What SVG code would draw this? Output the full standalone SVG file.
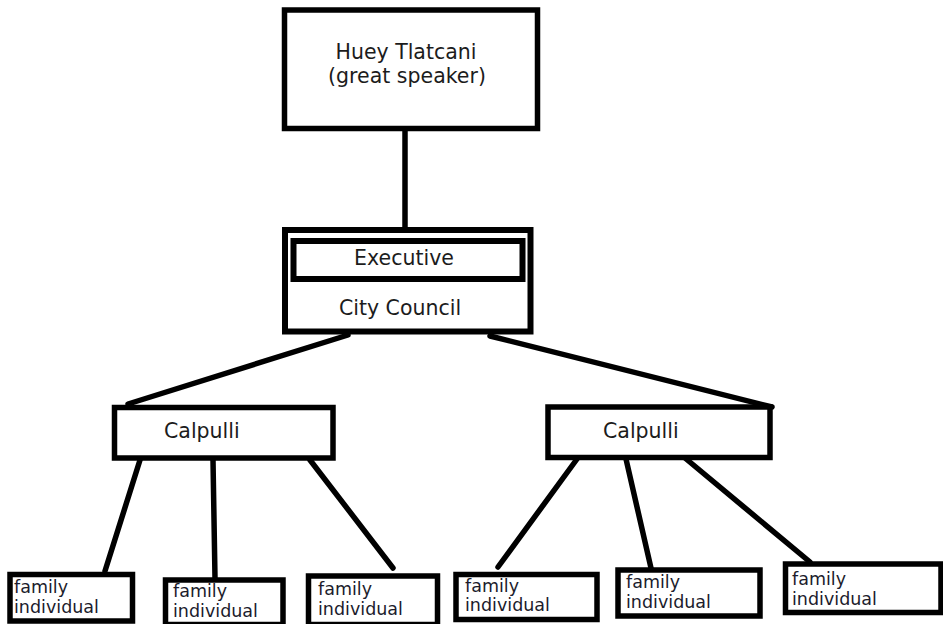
<svg xmlns="http://www.w3.org/2000/svg" width="943" height="624" viewBox="0 0 943 624">
<style>
.box{fill:#fff;stroke:#000;stroke-width:5.5}
.t{font-family:"DejaVu Sans",Verdana,sans-serif;font-size:20.5px;fill:#1c1c1c}
.s{font-family:"DejaVu Sans",Verdana,sans-serif;font-size:17.5px;fill:#1c1c2c}
.c line{stroke:#000;stroke-width:5.5;stroke-linecap:round}
</style>
<rect width="943" height="624" fill="#fff"/>
<g class="c" id="connectors">
<line x1="405" y1="130" x2="405" y2="228"/>
<line x1="348" y1="335" x2="128" y2="404"/>
<line x1="490" y1="336" x2="772" y2="407"/>
<line x1="140" y1="460" x2="105" y2="571"/>
<line x1="213" y1="460" x2="215" y2="578"/>
<line x1="310" y1="460" x2="393" y2="568"/>
<line x1="577" y1="459" x2="498" y2="567"/>
<line x1="626" y1="459" x2="651" y2="568"/>
<line x1="685" y1="458" x2="810" y2="562"/>
</g>
<g id="huey">
<rect class="box" x="284.5" y="10" width="253" height="118.5"/>
<text class="t" x="406" y="59" text-anchor="middle">Huey Tlatcani</text>
<text class="t" x="407" y="83" text-anchor="middle">(great speaker)</text>
</g>
<g id="council">
<rect class="box" x="285" y="230" width="245.5" height="101.5" style="stroke-width:6"/>
<rect class="box" x="293.5" y="241" width="229" height="38" style="stroke-width:6"/>
<text class="t" x="404" y="265" text-anchor="middle">Executive</text>
<text class="t" x="400" y="315" text-anchor="middle">City Council</text>
</g>
<g id="calpulli-left">
<rect class="box" x="114.5" y="407.5" width="218.5" height="50.5"/>
<text class="t" x="164" y="438">Calpulli</text>
</g>
<g id="calpulli-right">
<rect class="box" x="548" y="407" width="222" height="50.5"/>
<text class="t" x="603" y="438">Calpulli</text>
</g>
<g id="family1">
<rect class="box" x="10" y="574.5" width="122.5" height="46.5"/>
<text class="s" x="14" y="593">family</text>
<text class="s" x="14" y="613">individual</text>
</g>
<g id="family2">
<rect class="box" x="165.5" y="580" width="117.5" height="44.5"/>
<text class="s" x="173" y="597">family</text>
<text class="s" x="173" y="617">individual</text>
</g>
<g id="family3">
<rect class="box" x="308.5" y="576" width="129" height="48.5"/>
<text class="s" x="318" y="595">family</text>
<text class="s" x="318" y="615">individual</text>
</g>
<g id="family4">
<rect class="box" x="456" y="574.5" width="141" height="45"/>
<text class="s" x="465" y="592">family</text>
<text class="s" x="465" y="611">individual</text>
</g>
<g id="family5">
<rect class="box" x="618" y="570" width="142" height="46"/>
<text class="s" x="626" y="588">family</text>
<text class="s" x="626" y="608">individual</text>
</g>
<g id="family6">
<rect class="box" x="785.5" y="564" width="155.5" height="48.5"/>
<text class="s" x="792" y="585">family</text>
<text class="s" x="792" y="605">individual</text>
</g>
</svg>
